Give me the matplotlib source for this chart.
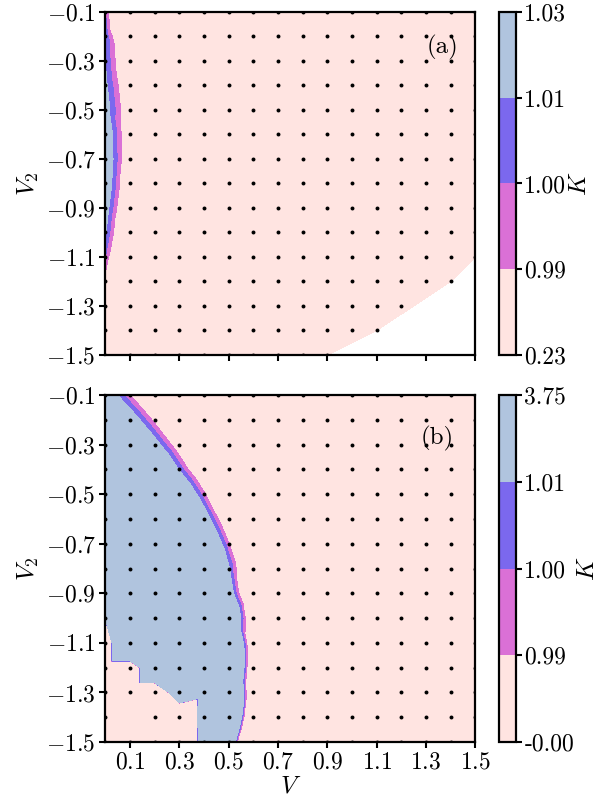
import numpy as np
import matplotlib
matplotlib.use('Agg')
import matplotlib.pyplot as plt

plt.rcParams['font.family'] = 'serif'
plt.rcParams['font.serif'] = ['cmr10']
plt.rcParams['mathtext.fontset'] = 'cm'
plt.rcParams['axes.formatter.use_mathtext'] = True
plt.rcParams['axes.unicode_minus'] = True

nan = np.nan

# grid of sampled points
V_vals = [0.0, 0.1, 0.2, 0.3, 0.4, 0.5, 0.6, 0.7, 0.8, 0.9, 1.0, 1.1, 1.2, 1.3, 1.4, 1.5]
V2_vals = [-0.1, -0.2, -0.3, -0.4, -0.5, -0.6, -0.7, -0.8, -0.9, -1.0, -1.1, -1.2, -1.3, -1.4, -1.5]

# panel (a): rows follow V2_vals, columns follow V_vals (nan = not computed)
K_a = [
    [1.000, 0.9167, 0.88, 0.84, 0.80, 0.76, 0.73, 0.70, 0.67, 0.64, 0.61, 0.58, 0.56, 0.53, 0.51, 0.49],
    [1.0075, 0.945, 0.89, 0.85, 0.81, 0.77, 0.74, 0.71, 0.68, 0.65, 0.62, 0.59, 0.56, 0.54, 0.51, 0.49],
    [1.0095, 0.960, 0.90, 0.86, 0.82, 0.78, 0.74, 0.71, 0.68, 0.65, 0.62, 0.59, 0.56, 0.53, 0.50, 0.48],
    [1.0136, 0.9682, 0.91, 0.86, 0.82, 0.78, 0.74, 0.71, 0.67, 0.64, 0.61, 0.58, 0.55, 0.52, 0.49, 0.46],
    [1.0182, 0.9727, 0.91, 0.86, 0.82, 0.78, 0.74, 0.70, 0.66, 0.63, 0.60, 0.56, 0.53, 0.50, 0.47, 0.44],
    [1.0261, 0.9705, 0.91, 0.86, 0.81, 0.77, 0.73, 0.69, 0.65, 0.62, 0.58, 0.55, 0.51, 0.48, 0.45, 0.42],
    [1.0282, 0.9694, 0.90, 0.85, 0.80, 0.76, 0.72, 0.68, 0.64, 0.60, 0.56, 0.53, 0.49, 0.46, 0.42, 0.39],
    [1.0263, 0.9638, 0.89, 0.84, 0.79, 0.75, 0.70, 0.66, 0.62, 0.58, 0.54, 0.50, 0.47, 0.43, 0.39, 0.36],
    [1.0188, 0.9563, 0.88, 0.83, 0.78, 0.73, 0.68, 0.64, 0.60, 0.56, 0.52, 0.48, 0.44, 0.40, 0.36, 0.32],
    [1.012, 0.9453, 0.87, 0.81, 0.76, 0.71, 0.66, 0.62, 0.57, 0.53, 0.49, 0.45, 0.41, 0.36, 0.32, 0.29],
    [1.000, 0.923, 0.85, 0.79, 0.74, 0.69, 0.64, 0.59, 0.54, 0.50, 0.45, 0.41, 0.37, 0.33, 0.29, 0.26],
    [0.9846, 0.9077, 0.83, 0.77, 0.71, 0.66, 0.61, 0.56, 0.51, 0.46, 0.42, 0.38, 0.34, 0.30, 0.26, nan],
    [0.950, 0.88, 0.81, 0.75, 0.69, 0.63, 0.58, 0.53, 0.48, 0.43, 0.38, 0.33, 0.28, nan, nan, nan],
    [0.930, 0.86, 0.79, 0.72, 0.66, 0.60, 0.55, 0.49, 0.44, 0.39, 0.34, 0.29, nan, nan, nan, nan],
    [0.910, 0.84, 0.77, 0.70, 0.63, 0.57, 0.51, 0.45, 0.40, 0.35, nan, nan, nan, nan, nan, nan],
]

# panel (b)
K_b = [
    [1.0296, 0.9896, 0.9496, 0.9096, 0.88, 0.86, 0.83, 0.80, 0.77, 0.74, 0.71, 0.68, 0.65, 0.62, 0.60, 0.58],
    [1.0684, 1.0267, 0.985, 0.9433, 0.91, 0.88, 0.86, 0.83, 0.80, 0.77, 0.74, 0.71, 0.68, 0.65, 0.62, 0.60],
    [1.111, 1.0659, 1.0205, 0.975, 0.9295, 0.90, 0.88, 0.85, 0.82, 0.79, 0.76, 0.73, 0.70, 0.67, 0.64, 0.61],
    [1.16, 1.108, 1.058, 1.008, 0.958, 0.908, 0.89, 0.87, 0.84, 0.81, 0.78, 0.75, 0.72, 0.69, 0.66, 0.63],
    [1.24, 1.17, 1.1045, 1.049, 0.9933, 0.9378, 0.90, 0.88, 0.86, 0.83, 0.80, 0.77, 0.74, 0.71, 0.68, 0.65],
    [1.33, 1.25, 1.16, 1.088, 1.0256, 0.9631, 0.9006, 0.88, 0.86, 0.83, 0.80, 0.77, 0.74, 0.71, 0.68, 0.65],
    [1.42, 1.32, 1.22, 1.1247, 1.058, 0.9913, 0.9247, 0.87, 0.85, 0.83, 0.80, 0.77, 0.74, 0.71, 0.68, 0.65],
    [1.55, 1.42, 1.28, 1.17, 1.09, 1.0131, 0.9362, 0.8593, 0.84, 0.82, 0.80, 0.77, 0.74, 0.71, 0.68, 0.65],
    [1.70, 1.55, 1.38, 1.23, 1.118, 1.0273, 0.9364, 0.8455, 0.83, 0.81, 0.79, 0.77, 0.74, 0.71, 0.68, 0.65],
    [1.07, 1.75, 1.50, 1.32, 1.1756, 1.0644, 0.9533, 0.8422, 0.82, 0.80, 0.78, 0.76, 0.74, 0.71, 0.68, 0.65],
    [0.00, 3.749, 1.65, 1.40, 1.237, 1.0943, 0.9514, 0.8086, 0.80, 0.79, 0.77, 0.75, 0.73, 0.71, 0.68, 0.65],
    [0.00, 0.00, 2.50, 1.50, 1.28, 1.1133, 0.9467, 0.78, 0.78, 0.77, 0.76, 0.74, 0.72, 0.70, 0.68, 0.65],
    [0.00, 0.00, 0.05, 1.74, 1.332, 1.132, 0.932, 0.732, 0.75, 0.75, 0.74, 0.73, 0.71, 0.69, 0.67, 0.65],
    [0.00, nan, 0.00, 0.00, 1.35, 1.1266, 0.9044, 0.682, 0.72, 0.73, 0.72, 0.71, 0.70, 0.68, 0.66, 0.64],
    [0.00, 0.00, 0.00, 0.00, 1.33, 1.075, 0.825, 0.575, 0.68, 0.70, 0.70, 0.69, 0.68, 0.67, 0.65, 0.63],
]

levels_a = [0.23, 0.99, 1.00, 1.01, 1.03]
levels_b = [-0.001, 0.99, 1.00, 1.01, 3.75]
cbar_labels_a = ['0.23', '0.99', '1.00', '1.01', '1.03']
cbar_labels_b = ['-0.00', '0.99', '1.00', '1.01', '3.75']
fill_colors = ['mistyrose', 'orchid', 'mediumslateblue', 'lightsteelblue']

xticks = [0.1, 0.3, 0.5, 0.7, 0.9, 1.1, 1.3, 1.5]
yticks = [-1.5, -1.3, -1.1, -0.9, -0.7, -0.5, -0.3, -0.1]
panel_tags = ['(a)', '(b)']

fig = plt.figure(figsize=(6.16, 7.99), dpi=100)
ax_pos = [[0.1711, 0.5557, 0.6006, 0.4293], [0.1711, 0.0713, 0.6006, 0.4343]]
cax_pos = [[0.8100, 0.5557, 0.0276, 0.4293], [0.8100, 0.0713, 0.0276, 0.4343]]
tag_pos = [(0.912, 0.898), (0.896, 0.876)]

XX, YY = np.meshgrid(V_vals, V2_vals)
for i, (K, lev, labs) in enumerate([(K_a, levels_a, cbar_labels_a), (K_b, levels_b, cbar_labels_b)]):
    Z = np.array(K, dtype=float)
    ok = ~np.isnan(Z)
    x = XX[ok]; y = YY[ok]; z = Z[ok]
    ax = fig.add_axes(ax_pos[i])
    cs = ax.tricontourf(x, y, z, levels=lev, colors=fill_colors)
    ax.scatter(x, y, s=8, c='black', linewidths=0, zorder=3)
    ax.set_xlim(0.0, 1.5)
    ax.set_ylim(-1.5, -0.1)
    ax.set_yticks(yticks)
    ax.set_xticks(xticks)
    ax.tick_params(direction='out', length=4, width=1.5, labelsize=17, pad=3)
    for sp in ax.spines.values():
        sp.set_linewidth(1.6)
    if i == 0:
        ax.set_xticklabels([])
    else:
        ax.set_xlabel(r'$V$', fontsize=18, labelpad=1)
    ax.set_ylabel(r'$V_2$', fontsize=18, labelpad=3)
    ax.text(tag_pos[i][0], tag_pos[i][1], panel_tags[i], transform=ax.transAxes,
            ha='center', va='center', fontsize=18)
    cax = fig.add_axes(cax_pos[i])
    cb = fig.colorbar(cs, cax=cax, ticks=lev)
    cb.set_ticklabels(labs)
    cb.outline.set_linewidth(1.6)
    cax.tick_params(direction='out', length=4, width=1.5, labelsize=17, pad=2)
    cb.set_label(r'$K$', fontsize=18, labelpad=2)

fig.savefig('out.png', dpi=100)
